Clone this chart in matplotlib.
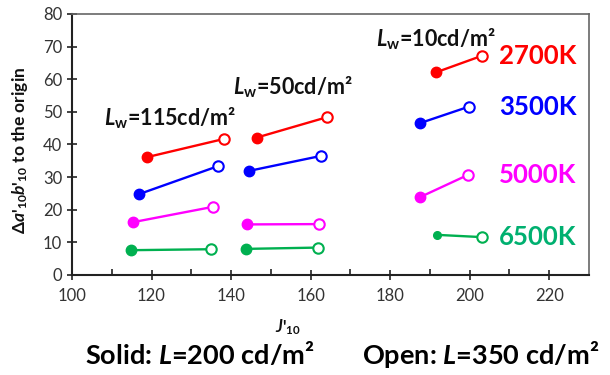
import matplotlib
matplotlib.use("Agg")
import matplotlib.pyplot as plt

# ---- data ----
temps = ["2700K", "3500K", "5000K", "6500K"]
colors = ["#ff0000", "#0000ff", "#ff00ff", "#00b050"]
text_colors = ["#ff0000", "#0000ff", "#ff00ff", "#00b070"]
lw_labels = ["115", "50", "10"]

# solid: L=200 cd/m2 ; open: L=350 cd/m2 ; columns = Lw 115, 50, 10
J_solid = [[118.8, 146.4, 191.5],
           [116.9, 144.5, 187.4],
           [115.4, 143.9, 187.4],
           [114.8, 143.7, 191.8]]
D_solid = [[36.1, 42.1, 62.1],
           [24.8, 31.9, 46.5],
           [16.2, 15.5, 23.8],
           [7.6, 8.0, 12.3]]
J_open = [[138.2, 164.2, 203.1],
          [136.8, 162.6, 199.8],
          [135.5, 162.1, 199.6],
          [135.0, 161.9, 203.2]]
D_open = [[41.7, 48.4, 67.2],
          [33.4, 36.5, 51.6],
          [20.9, 15.6, 30.7],
          [7.9, 8.4, 11.6]]

plt.rcParams["font.family"] = ["Lato", "DejaVu Sans"]
plt.rcParams["mathtext.fontset"] = "custom"
plt.rcParams["mathtext.rm"] = "Lato:bold"
plt.rcParams["mathtext.it"] = "Lato:bold:italic"
plt.rcParams["mathtext.bf"] = "Lato:bold"

fig = plt.figure(figsize=(6.1, 3.75), dpi=100)
ax = fig.add_axes([0.118, 0.2667, 0.8476, 0.696])

for ti in range(len(temps)):
    c = colors[ti]
    for gi in range(len(lw_labels)):
        ax.plot([J_solid[ti][gi], J_open[ti][gi]], [D_solid[ti][gi], D_open[ti][gi]],
                color=c, lw=1.7, zorder=2)
        ms = 5.5 if (ti == 3 and gi == 2) else 7.5
        ax.plot(J_solid[ti][gi], D_solid[ti][gi], "o", color=c, ms=ms, zorder=3)
        ax.plot(J_open[ti][gi], D_open[ti][gi], "o", mfc="white", mec=c, mew=1.5,
                ms=7.5, zorder=3)

ax.set_xlim(100, 230)
ax.set_ylim(0, 80)
ax.set_xticks(range(100, 221, 20))
ax.set_xticks(range(110, 230, 20), minor=True)
ax.set_yticks(range(0, 81, 10))
ax.tick_params(axis="both", which="major", direction="inout", length=7, width=1.2,
               labelsize=12, labelcolor="#333333", color="#222222")
ax.tick_params(axis="x", which="minor", direction="in", length=4, width=1.2, color="#222222")
ax.tick_params(axis="x", pad=6)
for s in ["left", "bottom"]:
    ax.spines[s].set_color("#222222")
    ax.spines[s].set_linewidth(1.5)
for s in ["top", "right"]:
    ax.spines[s].set_color("#666666")
    ax.spines[s].set_linewidth(1.2)

# Lw labels
lw_pos = [(108, 48.0), (140.5, 57.6), (176.5, 72.2)]
for lab, (x, y) in zip(lw_labels, lw_pos):
    ax.text(x, y, r"$L_{\mathrm{w}}$=" + lab + "cd/m²", fontsize=15.5, fontweight="bold",
            ha="left", va="center", color="#111111")

# temperature labels
temp_y = [67.0, 51.5, 30.7, 11.7]
for ti in range(len(temps)):
    ax.text(207.3, temp_y[ti], temps[ti], fontsize=18.5, fontweight="bold",
            color=text_colors[ti], ha="left", va="center")

fig.text(0.033, 0.6, "Δ" + r"$a$'$_{10}$$b$'$_{10}$ to the origin", rotation=90,
         fontsize=12.5, fontweight="bold", ha="center", va="center", color="#111111")
fig.text(0.472, 0.128, r"$J$'$_{10}$", fontsize=12, fontweight="bold",
         ha="center", va="center", color="#111111")

fig.text(0.139, 0.055, r"Solid: $L$=200 cd/m²", fontsize=19.5, fontweight="bold",
         ha="left", va="center", color="#000000")
fig.text(0.593, 0.055, r"Open: $L$=350 cd/m²", fontsize=19.5, fontweight="bold",
         ha="left", va="center", color="#000000")

fig.savefig("out.png", dpi=100)
